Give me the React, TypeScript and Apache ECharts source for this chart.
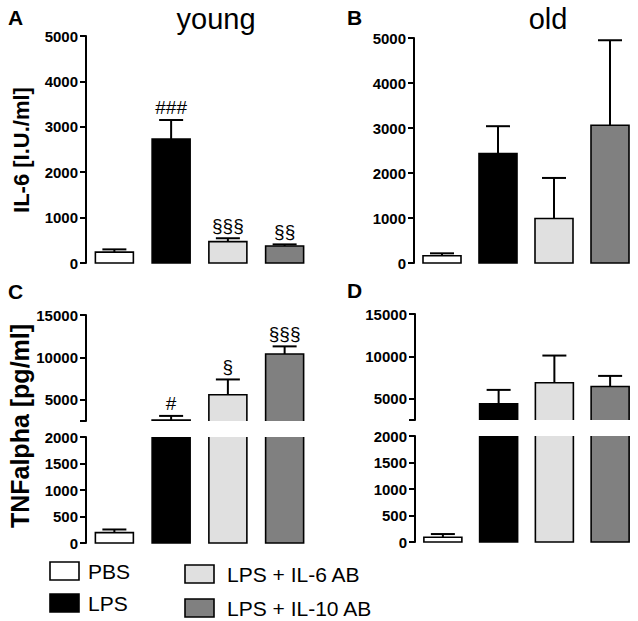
import { useEffect, useRef } from "react";
import * as echarts from "echarts";

// ---------- data ----------
const groups = ["PBS", "LPS", "LPS + IL-6 AB", "LPS + IL-10 AB"];
const groupColors = ["#ffffff", "#000000", "#e0e0e0", "#808080"];

const il6Young = [240, 2730, 470, 375];
const il6YoungSem = [60, 420, 75, 35];
const il6YoungMarks = ["", "###", "§§§", "§§"];

const il6Old = [160, 2430, 990, 3060];
const il6OldSem = [55, 610, 900, 1890];
const il6OldMarks = ["", "", "", ""];

const tnfYoung = [195, 2600, 5600, 10400];
const tnfYoungSem = [60, 500, 1800, 900];
const tnfYoungMarks = ["", "#", "§", "§§§"];

const tnfOld = [90, 4400, 6900, 6450];
const tnfOldSem = [60, 1650, 3200, 1250];
const tnfOldMarks = ["", "", "", ""];

const il6Ticks = [0, 1000, 2000, 3000, 4000, 5000];
const tnfUpperTicks = [2500, 5000, 10000, 15000];
const tnfUpperLabels = [5000, 10000, 15000];
const tnfLowerTicks = [0, 500, 1000, 1500, 2000];

const FONT = '"Liberation Sans", Arial, Helvetica, sans-serif';

export default function App() {
  const ref = useRef<HTMLDivElement>(null);

  useEffect(() => {
    document.body.style.margin = "0";
    const chart = echarts.init(ref.current!, null, { renderer: "svg" });

    const grids = [
      { left: 86, top: 36, width: 227, height: 227 },
      { left: 414, top: 38, width: 227, height: 225 },
      { left: 86, top: 315, width: 227, height: 106 },
      { left: 86, top: 437, width: 227, height: 106 },
      { left: 415, top: 314, width: 227, height: 106 },
      { left: 415, top: 436, width: 227, height: 106 },
    ];

    const axisLabel = {
      color: "#000",
      fontFamily: FONT,
      fontWeight: "bold" as const,
      fontSize: 15,
      margin: 8,
      formatter: (v: number) => String(v),
    };
    const axisTick = { show: true, length: 6, lineStyle: { color: "#000", width: 2 } };
    const axisLine = { show: true, lineStyle: { color: "#000", width: 2 } };

    const yAxis = (gridIndex: number, ticks: number[], labels: number[]) => ({
      type: "value",
      gridIndex,
      min: ticks[0],
      max: ticks[ticks.length - 1],
      splitLine: { show: false },
      axisLine,
      axisTick: { ...axisTick, customValues: ticks },
      axisLabel: { ...axisLabel, customValues: labels },
    });

    const panels = [
      { grid: 0, mean: il6Young, sem: il6YoungSem, marks: il6YoungMarks, ticks: il6Ticks, labels: il6Ticks },
      { grid: 1, mean: il6Old, sem: il6OldSem, marks: il6OldMarks, ticks: il6Ticks, labels: il6Ticks },
      { grid: 2, mean: tnfYoung, sem: tnfYoungSem, marks: tnfYoungMarks, ticks: tnfUpperTicks, labels: tnfUpperLabels },
      { grid: 3, mean: tnfYoung, sem: tnfYoungSem, marks: ["", "", "", ""], ticks: tnfLowerTicks, labels: tnfLowerTicks },
      { grid: 4, mean: tnfOld, sem: tnfOldSem, marks: tnfOldMarks, ticks: tnfUpperTicks, labels: tnfUpperLabels },
      { grid: 5, mean: tnfOld, sem: tnfOldSem, marks: ["", "", "", ""], ticks: tnfLowerTicks, labels: tnfLowerTicks },
    ];

    const series: any[] = [];
    panels.forEach((p) => {
      const lo = p.ticks[0];
      const hi = p.ticks[p.ticks.length - 1];
      series.push({
        type: "bar",
        xAxisIndex: p.grid,
        yAxisIndex: p.grid,
        barWidth: 38,
        clip: true,
        data: p.mean.map((v, i) =>
          v > lo ? { value: v, itemStyle: { color: groupColors[i], borderWidth: 0 } } : "-"
        ),
        z: 2,
      });
      series.push({
        type: "custom",
        xAxisIndex: p.grid,
        yAxisIndex: p.grid,
        clip: false,
        z: 3,
        data: p.mean.map((v, i) => [i, v, p.sem[i]]),
        renderItem: (params: any, api: any) => {
          const i = params.dataIndex;
          const m = p.mean[i];
          const s = p.sem[i];
          const children: any[] = [];
          if (m <= lo) return { type: "group", children };
          const base = api.coord([i, lo]);
          const cx = base[0];
          const yb = base[1];
          const yt = api.coord([i, Math.min(m, hi)])[1];
          const xl = cx - 19;
          const xr = cx + 19;
          const stroke = { stroke: "#000", lineWidth: 1.6, fill: null };
          const closedTop = m <= hi;
          const closedBottom = lo === 0;
          if (closedTop && closedBottom) {
            children.push({
              type: "polygon",
              shape: { points: [[xl, yb], [xl, yt], [xr, yt], [xr, yb]] },
              style: { ...stroke, fill: "none" },
            });
          } else if (closedTop) {
            children.push({
              type: "polyline",
              shape: { points: [[xl, yb], [xl, yt], [xr, yt], [xr, yb]] },
              style: stroke,
            });
          } else {
            children.push({
              type: "polyline",
              shape: { points: [[xl, yt], [xl, yb], [xr, yb], [xr, yt]] },
              style: stroke,
            });
          }
          if (closedTop) {
            const ye = api.coord([i, m + s])[1];
            children.push({
              type: "line",
              shape: { x1: cx, y1: yt, x2: cx, y2: ye },
              style: { stroke: "#000", lineWidth: 2 },
            });
            children.push({
              type: "line",
              shape: { x1: cx - 12, y1: ye, x2: cx + 12, y2: ye },
              style: { stroke: "#000", lineWidth: 2 },
            });
            if (p.marks[i]) {
              children.push({
                type: "text",
                x: cx,
                y: ye - 3,
                style: {
                  text: p.marks[i],
                  align: "center",
                  verticalAlign: "bottom",
                  fontFamily: FONT,
                  fontSize: 19,
                  fill: "#000",
                },
              });
            }
          }
          return { type: "group", children };
        },
      });
    });

    const txt = (text: string, x: number, y: number, size: number, weight: string, align = "left") => ({
      type: "text",
      x,
      y,
      style: {
        text,
        fontFamily: FONT,
        fontSize: size,
        fontWeight: weight,
        fill: "#000",
        align,
        verticalAlign: "middle",
      },
    });

    const legendItems = [
      { x: 50, y: 562, tx: 88 },
      { x: 50, y: 594, tx: 88 },
      { x: 185, y: 565, tx: 227 },
      { x: 185, y: 599, tx: 227 },
    ];

    const graphic: any[] = [
      txt("A", 8, 17, 21, "bold"),
      txt("B", 347, 17, 21, "bold"),
      txt("C", 8, 291, 21, "bold"),
      txt("D", 347, 290, 21, "bold"),
      txt("young", 216, 19, 29, "normal", "center"),
      txt("old", 548, 19, 29, "normal", "center"),
      {
        type: "text",
        x: 21,
        y: 150,
        rotation: Math.PI / 2,
        style: {
          text: "IL-6 [I.U./ml]",
          fontFamily: FONT,
          fontSize: 22,
          fontWeight: "bold",
          fill: "#000",
          align: "center",
          verticalAlign: "middle",
        },
      },
      {
        type: "text",
        x: 20,
        y: 426,
        rotation: Math.PI / 2,
        style: {
          text: "TNFalpha [pg/ml]",
          fontFamily: FONT,
          fontSize: 25,
          fontWeight: "bold",
          fill: "#000",
          align: "center",
          verticalAlign: "middle",
        },
      },
    ];
    groups.forEach((g, i) => {
      const li = legendItems[i];
      graphic.push({
        type: "rect",
        shape: { x: li.x, y: li.y, width: 29, height: 18 },
        style: { fill: groupColors[i], stroke: "#000", lineWidth: 1.6 },
      });
      graphic.push(txt(g, li.tx, li.y + 9, 21, "normal"));
    });

    chart.setOption({
      animation: false,
      backgroundColor: "#fff",
      grid: grids,
      xAxis: grids.map((_, gi) => ({
        type: "category",
        gridIndex: gi,
        data: groups,
        show: false,
      })),
      yAxis: panels.map((p) => yAxis(p.grid, p.ticks, p.labels)),
      series,
      graphic,
    });

    return () => chart.dispose();
  }, []);

  return <div ref={ref} style={{ width: 638, height: 621 }} />;
}
